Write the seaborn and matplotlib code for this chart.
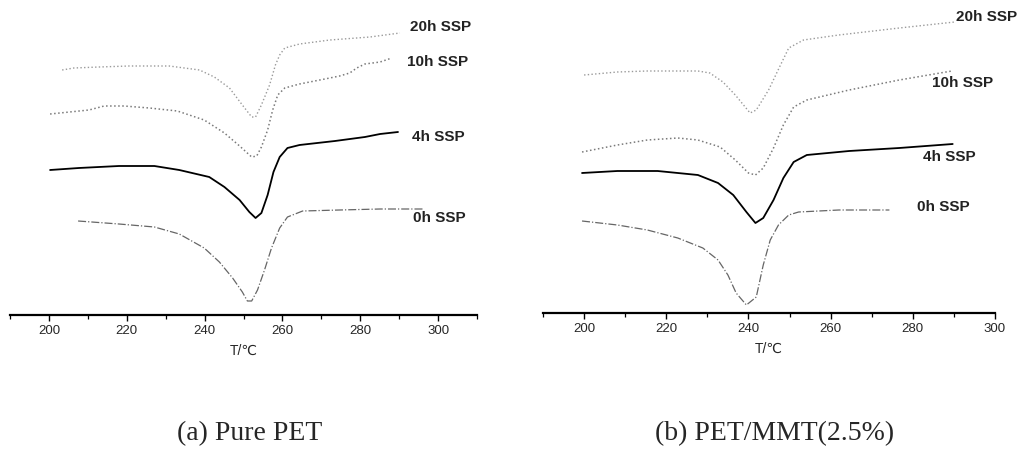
import numpy as np
import pandas as pd
import matplotlib
matplotlib.use("Agg")
import matplotlib.pyplot as plt
import seaborn as sns
from matplotlib.ticker import MultipleLocator

# DSC melting curves, T in degC, heat flow in arbitrary offset units (endo down)
# (a) Pure PET
pet_20h_t = [203.4, 206.4, 212.9, 220.6, 230.9, 238.7, 242.5, 246.4, 249.7, 252.1,
             253.1, 254.6, 256.7, 258.2, 259.3, 260.6, 264.4, 272.2, 282.5, 290.2]
pet_20h_q = [245, 247, 248, 249, 249, 245, 238, 227, 210, 198,
             198, 210, 230, 250, 260, 267, 271, 275, 278, 282]
pet_10h_t = [200.3, 210.3, 214.2, 219.3, 225.8, 233.0, 239.9, 245.1, 249.0, 252.1, 253.4, 254.6,
             256.2, 257.5, 258.8, 260.6, 264.4, 270.9, 274.7, 277.3, 279.1, 281.2, 285.1, 288.1]
pet_10h_q = [201, 205, 209, 209, 207, 204, 195, 182, 169, 158, 159, 168,
             185, 205, 220, 227, 231, 236, 239, 242, 247, 251, 253, 257]
pet_4h_t = [200.3, 207.7, 218.0, 227.1, 233.5, 241.2, 245.1, 249.0, 251.5, 253.1,
            254.6, 256.2, 257.7, 259.3, 261.3, 264.4, 273.5, 281.2, 285.1, 289.7]
pet_4h_q = [145, 147, 149, 149, 145, 138, 128, 115, 103, 97,
            102, 120, 143, 158, 167, 170, 174, 178, 181, 183]
pet_0h_t = [207.5, 218.0, 227.1, 233.5, 239.9, 243.8, 247.2, 249.7, 251.0, 252.1,
            253.6, 255.4, 257.2, 259.3, 261.3, 265.2, 274.7, 285.1, 296.1]
pet_0h_q = [94, 91, 88, 81, 67, 53, 37, 23, 14, 14,
            25, 45, 67, 87, 98, 104, 105, 106, 106]

# (b) PET/MMT(2.5%)
mmt_20h_t = [200.0, 208.1, 215.4, 227.7, 230.6, 233.8, 236.8, 240.4, 241.9, 244.9,
             247.8, 249.8, 253.4, 262.0, 276.7, 290.2]
mmt_20h_q = [238, 241, 242, 242, 240, 231, 218, 200, 203, 223,
             248, 265, 273, 278, 285, 291]
mmt_10h_t = [199.5, 208.1, 215.4, 222.8, 227.7, 233.1, 236.8, 240.0, 241.7, 243.6,
             246.1, 248.5, 251.0, 254.2, 264.5, 276.7, 289.5]
mmt_10h_q = [161, 168, 173, 175, 173, 166, 153, 140, 138, 145,
             165, 188, 206, 213, 223, 233, 242]
mmt_4h_t = [199.5, 208.1, 217.9, 227.7, 232.6, 236.3, 239.5, 241.7, 243.6, 246.1,
            248.5, 251.0, 254.2, 264.5, 276.7, 289.7]
mmt_4h_q = [140, 142, 142, 138, 130, 118, 101, 90, 95, 113,
            135, 151, 158, 162, 165, 169]
mmt_0h_t = [199.5, 208.1, 215.4, 222.8, 228.9, 232.6, 235.0, 237.0, 239.5, 241.9,
            243.6, 245.3, 247.3, 249.8, 252.2, 262.0, 274.3]
mmt_0h_q = [92, 88, 83, 75, 65, 53, 38, 20, 8, 16,
            48, 73, 88, 98, 101, 103, 103]

series_labels = ["20h SSP", "10h SSP", "4h SSP", "0h SSP"]

sns.set_style("white")
plt.rcParams["font.family"] = ["Liberation Sans", "DejaVu Sans"]

# line look per series
styles = {
    "20h SSP": dict(color="#9a9a9a", linestyle=":", linewidth=1.0),
    "10h SSP": dict(color="#7a7a7a", linestyle=":", linewidth=1.1),
    "4h SSP": dict(color="black", linestyle="-", linewidth=1.3),
    "0h SSP": dict(color="#666666", linestyle="-.", linewidth=0.9),
}

fig = plt.figure(figsize=(10.18, 4.5), dpi=100)
ax1 = fig.add_axes([10 / 1018, 135 / 450, 467 / 1018, 315 / 450])
ax2 = fig.add_axes([543 / 1018, 137 / 450, 452 / 1018, 313 / 450])

panels = [
    (ax1, [(pet_20h_t, pet_20h_q), (pet_10h_t, pet_10h_q), (pet_4h_t, pet_4h_q), (pet_0h_t, pet_0h_q)],
     (190, 310), 315,
     {"20h SSP": (292.8, 288), "10h SSP": (292.0, 253), "4h SSP": (293.3, 178), "0h SSP": (293.6, 97)}),
    (ax2, [(mmt_20h_t, mmt_20h_q), (mmt_10h_t, mmt_10h_q), (mmt_4h_t, mmt_4h_q), (mmt_0h_t, mmt_0h_q)],
     (190, 300), 313,
     {"20h SSP": (290.4, 296), "10h SSP": (284.6, 230), "4h SSP": (282.4, 156), "0h SSP": (280.9, 106)}),
]

for ax, curves, xlim, ytop, label_pos in panels:
    for name, (t, q) in zip(series_labels, curves):
        df = pd.DataFrame({"T": t, "Q": q})
        sns.lineplot(data=df, x="T", y="Q", ax=ax, estimator=None, sort=False, **styles[name])
        lx, ly = label_pos[name]
        ax.text(lx, ly, name, fontsize=11, fontweight="bold", ha="left", va="center",
                color="#222222", clip_on=False)
    ax.set_xlim(*xlim)
    ax.set_ylim(0, ytop)
    ax.set_yticks([])
    ax.set_ylabel("")
    for s in ["left", "top", "right"]:
        ax.spines[s].set_visible(False)
    ax.spines["bottom"].set_color("black")
    ax.spines["bottom"].set_linewidth(1.6)
    ax.xaxis.set_major_locator(MultipleLocator(20))
    ax.xaxis.set_minor_locator(MultipleLocator(10))
    ax.tick_params(axis="x", which="major", direction="out", length=4, width=1.0,
                   labelsize=9.5, pad=3, bottom=True, color="black")
    ax.tick_params(axis="x", which="minor", direction="out", length=3, width=0.9,
                   bottom=True, color="black")
    ax.set_xlabel("T/℃", fontsize=10, labelpad=5)
    ax.patch.set_alpha(0)

fig.text(250 / 1018, 10 / 450, "(a) Pure PET", family="Liberation Serif", fontsize=20,
         ha="center", va="baseline")
fig.text(775 / 1018, 10 / 450, "(b) PET/MMT(2.5%)", family="Liberation Serif", fontsize=20,
         ha="center", va="baseline")

fig.savefig("out.png", dpi=100)
